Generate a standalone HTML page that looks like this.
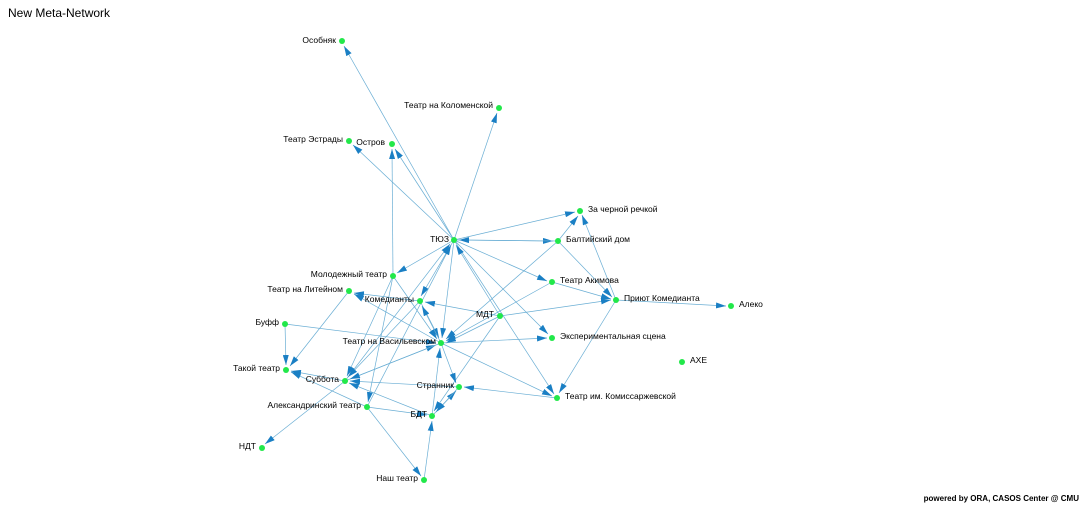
<!DOCTYPE html><html><head><meta charset="utf-8"><style>body{margin:0;background:#fff}svg{display:block}text{font-family:"Liberation Sans",sans-serif;font-size:8.5px;fill:#000}</style></head><body>
<svg width="1084" height="505" viewBox="0 0 1084 505">
<defs><marker id="a" viewBox="0 0 10 6" refX="10" refY="3" markerWidth="10" markerHeight="6" markerUnits="userSpaceOnUse" orient="auto"><path d="M0,0L10,3L0,6z" fill="#1a7fc4"/></marker></defs>
<text x="8" y="17" style="font-size:12px">New Meta-Network</text>
<text x="1079" y="501" text-anchor="end" style="font-size:8px;font-weight:bold">powered by ORA, CASOS Center @ CMU</text>
<g stroke="#6aaed4" stroke-width="0.7" marker-end="url(#a)" fill="none">
<line x1="454" y1="240" x2="344" y2="46"/>
<line x1="454" y1="240" x2="353" y2="145"/>
<line x1="454" y1="240" x2="497" y2="113"/>
<line x1="454" y1="240" x2="395" y2="149"/>
<line x1="393" y1="276" x2="392" y2="149"/>
<line x1="454" y1="240" x2="575" y2="212"/>
<line x1="454" y1="240" x2="553" y2="241"/>
<line x1="558" y1="241" x2="459" y2="240"/>
<line x1="454" y1="240" x2="547" y2="281"/>
<line x1="454" y1="240" x2="548" y2="334"/>
<line x1="454" y1="240" x2="554" y2="394"/>
<line x1="454" y1="240" x2="397" y2="273"/>
<line x1="454" y1="240" x2="421" y2="296"/>
<line x1="454" y1="240" x2="442" y2="338"/>
<line x1="500" y1="316" x2="456" y2="245"/>
<line x1="345" y1="381" x2="450" y2="244"/>
<line x1="367" y1="407" x2="451" y2="245"/>
<line x1="558" y1="241" x2="578" y2="216"/>
<line x1="616" y1="300" x2="582" y2="215"/>
<line x1="558" y1="241" x2="612" y2="297"/>
<line x1="552" y1="282" x2="611" y2="299"/>
<line x1="500" y1="316" x2="611" y2="300"/>
<line x1="616" y1="300" x2="726" y2="306"/>
<line x1="616" y1="300" x2="559" y2="393"/>
<line x1="558" y1="241" x2="446" y2="339"/>
<line x1="552" y1="282" x2="446" y2="341"/>
<line x1="500" y1="316" x2="446" y2="343"/>
<line x1="500" y1="316" x2="425" y2="302"/>
<line x1="500" y1="316" x2="434" y2="411"/>
<line x1="441" y1="343" x2="547" y2="338"/>
<line x1="441" y1="343" x2="552" y2="396"/>
<line x1="557" y1="398" x2="464" y2="387"/>
<line x1="441" y1="343" x2="456" y2="383"/>
<line x1="420" y1="301" x2="439" y2="338"/>
<line x1="441" y1="343" x2="422" y2="306"/>
<line x1="441" y1="343" x2="354" y2="294"/>
<line x1="420" y1="301" x2="354" y2="293"/>
<line x1="285" y1="324" x2="436" y2="343"/>
<line x1="345" y1="381" x2="436" y2="345"/>
<line x1="441" y1="343" x2="350" y2="379"/>
<line x1="432" y1="416" x2="440" y2="348"/>
<line x1="393" y1="276" x2="437" y2="339"/>
<line x1="393" y1="276" x2="347" y2="376"/>
<line x1="420" y1="301" x2="348" y2="377"/>
<line x1="349" y1="291" x2="290" y2="366"/>
<line x1="285" y1="324" x2="286" y2="365"/>
<line x1="345" y1="381" x2="291" y2="371"/>
<line x1="367" y1="407" x2="291" y2="372"/>
<line x1="459" y1="387" x2="350" y2="381"/>
<line x1="432" y1="416" x2="349" y2="383"/>
<line x1="393" y1="276" x2="368" y2="402"/>
<line x1="367" y1="407" x2="427" y2="415"/>
<line x1="432" y1="416" x2="456" y2="391"/>
<line x1="459" y1="387" x2="436" y2="412"/>
<line x1="367" y1="407" x2="421" y2="476"/>
<line x1="424" y1="480" x2="432" y2="421"/>
<line x1="345" y1="381" x2="265" y2="444"/>
</g>
<g fill="#22e84a">
<circle cx="454" cy="240" r="3"/><circle cx="342" cy="41" r="3"/><circle cx="499" cy="108" r="3"/><circle cx="349" cy="141" r="3"/><circle cx="392" cy="144" r="3"/><circle cx="580" cy="211" r="3"/><circle cx="558" cy="241" r="3"/><circle cx="552" cy="282" r="3"/><circle cx="616" cy="300" r="3"/><circle cx="731" cy="306" r="3"/><circle cx="500" cy="316" r="3"/><circle cx="552" cy="338" r="3"/><circle cx="682" cy="362" r="3"/><circle cx="557" cy="398" r="3"/><circle cx="393" cy="276" r="3"/><circle cx="349" cy="291" r="3"/><circle cx="420" cy="301" r="3"/><circle cx="285" cy="324" r="3"/><circle cx="441" cy="343" r="3"/><circle cx="286" cy="370" r="3"/><circle cx="345" cy="381" r="3"/><circle cx="459" cy="387" r="3"/><circle cx="367" cy="407" r="3"/><circle cx="432" cy="416" r="3"/><circle cx="262" cy="448" r="3"/><circle cx="424" cy="480" r="3"/>
</g>
<g>
<text x="449" y="242" text-anchor="end">ТЮЗ</text>
<text x="336" y="43" text-anchor="end">Особняк</text>
<text x="493" y="108" text-anchor="end">Театр на Коломенской</text>
<text x="343" y="142" text-anchor="end">Театр Эстрады</text>
<text x="385" y="145" text-anchor="end">Остров</text>
<text x="588" y="212">За черной речкой</text>
<text x="566" y="242">Балтийский дом</text>
<text x="560" y="283">Театр Акимова</text>
<text x="624" y="301">Приют Комедианта</text>
<text x="739" y="307">Алеко</text>
<text x="494" y="317" text-anchor="end">МДТ</text>
<text x="560" y="339">Экспериментальная сцена</text>
<text x="690" y="363">АХЕ</text>
<text x="565" y="399">Театр им. Комиссаржевской</text>
<text x="387" y="277" text-anchor="end">Молодежный театр</text>
<text x="343" y="292" text-anchor="end">Театр на Литейном</text>
<text x="414" y="302" text-anchor="end">Комедианты</text>
<text x="279" y="325" text-anchor="end">Буфф</text>
<text x="436" y="344" text-anchor="end">Театр на Васильевском</text>
<text x="280" y="371" text-anchor="end">Такой театр</text>
<text x="339" y="382" text-anchor="end">Суббота</text>
<text x="454" y="388" text-anchor="end">Странник</text>
<text x="361" y="408" text-anchor="end">Александринский театр</text>
<text x="427" y="417" text-anchor="end">БДТ</text>
<text x="256" y="449" text-anchor="end">НДТ</text>
<text x="418" y="481" text-anchor="end">Наш театр</text>
</g>
</svg></body></html>
